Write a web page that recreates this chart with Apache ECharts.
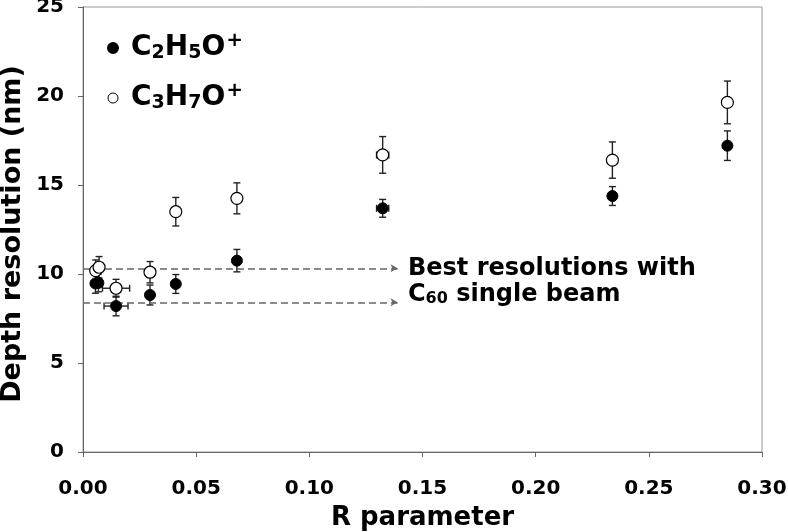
<!DOCTYPE html>
<html>
<head>
<meta charset="utf-8">
<script src="https://cdn.jsdelivr.net/npm/echarts@6/dist/echarts.min.js"></script>
<style>html,body{margin:0;padding:0;background:#fff;}#c{width:788px;height:532px;}</style>
</head>
<body>
<div id="c"></div>
<script>
// ---- data ----
var seriesNames = ['C2H5O+', 'C3H7O+'];
var rC2 = [0.0055, 0.0068, 0.0146, 0.0296, 0.041, 0.068, 0.1324, 0.2339, 0.2847];
var c2Values = [9.47, 9.5, 8.2, 8.82, 9.44, 10.75, 13.69, 14.38, 17.21];
var c2YErr = [0.55, 0.5, 0.55, 0.56, 0.53, 0.63, 0.5, 0.53, 0.83];
var c2XErr = [0, 0, 0.0053, 0, 0, 0, 0.0027, 0, 0];
var rC3 = [0.0056, 0.0071, 0.0146, 0.0296, 0.041, 0.068, 0.1324, 0.2339, 0.2847];
var c3Values = [10.19, 10.38, 9.2, 10.1, 13.5, 14.25, 16.69, 16.4, 19.64];
var c3YErr = [0.6, 0.6, 0.5, 0.6, 0.8, 0.87, 1.03, 1.02, 1.2];
var c3XErr = [0, 0, 0.006, 0, 0, 0, 0.0027, 0, 0];
var refLevels = [10.32, 8.41];
var refEnd = 0.139;
var xTicks = [0, 0.05, 0.10, 0.15, 0.20, 0.25, 0.30];
var yTicks = [0, 5, 10, 15, 20, 25];
var yTitle = 'Depth resolution (nm)';
var annotation1 = 'Best resolutions with';

// ---- build ----
function zip(xs, ys) { return xs.map(function (x, i) { return [x, ys[i]]; }); }
function errData(xs, ys, ye, xe) { return xs.map(function (x, i) { return [x, ys[i], ye[i], xe[i]]; }); }

function renderErr(params, api) {
  var x = api.value(0), y = api.value(1), ye = api.value(2), xe = api.value(3);
  var c = api.coord([x, y]);
  var top = api.coord([x, y + ye]);
  var bot = api.coord([x, y - ye]);
  var cap = 3.5;
  var st = { stroke: '#222', lineWidth: 1.4 };
  var ch = [
    { type: 'line', shape: { x1: c[0], y1: top[1], x2: c[0], y2: bot[1] }, style: st },
    { type: 'line', shape: { x1: c[0] - cap, y1: top[1], x2: c[0] + cap, y2: top[1] }, style: st },
    { type: 'line', shape: { x1: c[0] - cap, y1: bot[1], x2: c[0] + cap, y2: bot[1] }, style: st }
  ];
  if (xe > 0) {
    var l = api.coord([x - xe, y]), r = api.coord([x + xe, y]);
    ch.push({ type: 'line', shape: { x1: l[0], y1: c[1], x2: r[0], y2: c[1] }, style: st });
    ch.push({ type: 'line', shape: { x1: l[0], y1: c[1] - cap, x2: l[0], y2: c[1] + cap }, style: st });
    ch.push({ type: 'line', shape: { x1: r[0], y1: c[1] - cap, x2: r[0], y2: c[1] + cap }, style: st });
  }
  return { type: 'group', children: ch };
}

var FONT = '"DejaVu Sans", Verdana, sans-serif';
var chart = echarts.init(document.getElementById('c'), null, { renderer: 'canvas' });

function formulaRich(name) {
  var out = '';
  for (var i = 0; i < name.length; i++) {
    var ch = name[i];
    if (/[0-9]/.test(ch)) out += '{s|' + ch + '}';
    else if (ch === '+') out += '{p|+}';
    else out += '{b|' + ch + '}';
  }
  return out;
}

var option = {
  animation: false,
  backgroundColor: '#fff',
  grid: { left: 83, right: 26, top: 7, bottom: 80, show: true, borderColor: '#999', borderWidth: 1,
    containLabel: false, outerBoundsMode: 'none' },
  legend: {
    orient: 'vertical',
    left: 102, top: 26,
    itemWidth: 10, itemHeight: 10, itemGap: 16,
    icon: 'circle',
    data: [
      { name: seriesNames[0], itemStyle: { color: '#000', borderColor: '#000' } },
      { name: seriesNames[1], itemStyle: { color: '#fff', borderColor: '#000', borderWidth: 1 } }
    ],
    formatter: formulaRich,
    textStyle: {
      padding: [0, 0, 0, 8],
      rich: {
        b: { fontFamily: FONT, fontWeight: 'bold', fontSize: 28, color: '#000', lineHeight: 34, verticalAlign: 'middle' },
        s: { fontFamily: FONT, fontWeight: 'bold', fontSize: 19, color: '#000', lineHeight: 34, verticalAlign: 'bottom', padding: [0, 0, 2, 0] },
        p: { fontFamily: FONT, fontWeight: 'bold', fontSize: 20, color: '#000', lineHeight: 34, verticalAlign: 'top', padding: [0, 0, 0, 1] }
      }
    }
  },
  xAxis: {
    type: 'value', min: 0, max: 0.3, interval: 0.05,
    name: 'R parameter', nameLocation: 'middle', nameGap: 53,
    nameTextStyle: { fontFamily: FONT, fontWeight: 'bold', fontSize: 26, color: '#000' },
    axisLine: { show: true, lineStyle: { color: '#666', width: 1 } },
    axisTick: { show: true, length: 5, lineStyle: { color: '#666' } },
    splitLine: { show: false },
    axisLabel: { margin: 27, fontFamily: FONT, fontWeight: 'bold', fontSize: 20, color: '#000',
      formatter: function (v) { return v.toFixed(2); } }
  },
  yAxis: {
    type: 'value', min: 0, max: 25, interval: 5,
    axisLine: { show: true, lineStyle: { color: '#666', width: 1 } },
    axisTick: { show: true, length: 5, lineStyle: { color: '#666' } },
    splitLine: { show: false },
    axisLabel: { margin: 19, fontFamily: FONT, fontWeight: 'bold', fontSize: 20, color: '#000' }
  },
  series: [
    {
      type: 'custom', name: 'err1', renderItem: renderErr, z: 2,
      encode: { x: 0, y: 1 }, data: errData(rC2, c2Values, c2YErr, c2XErr), silent: true
    },
    {
      type: 'custom', name: 'err2', renderItem: renderErr, z: 2,
      encode: { x: 0, y: 1 }, data: errData(rC3, c3Values, c3YErr, c3XErr), silent: true
    },
    {
      type: 'scatter', name: seriesNames[0], z: 5, symbol: 'circle', symbolSize: 11,
      itemStyle: { color: '#000', borderColor: '#000', borderWidth: 1, opacity: 1 },
      data: zip(rC2, c2Values),
      markLine: {
        silent: true, symbol: ['none', 'arrow'], symbolSize: [6, 7],
        label: { show: false },
        lineStyle: { color: '#666', type: [7, 4], width: 1.6 },
        data: refLevels.map(function (v) { return [{ coord: [0, v] }, { coord: [refEnd, v] }]; })
      }
    },
    {
      type: 'scatter', name: seriesNames[1], z: 6, symbol: 'circle', symbolSize: 12,
      itemStyle: { color: '#fff', borderColor: '#000', borderWidth: 1.2, opacity: 1 },
      data: zip(rC3, c3Values)
    }
  ],
  graphic: [
    {
      type: 'text', x: 13, y: 234, rotation: Math.PI / 2,
      style: { text: yTitle, x: 0, y: 0, align: 'center', verticalAlign: 'middle',
        fontFamily: FONT, fontWeight: 'bold', fontSize: 27, fill: '#000' }
    },
    {
      type: 'text', left: 408, top: 257,
      style: { text: annotation1, fontFamily: FONT, fontWeight: 'bold', fontSize: 24, fill: '#000' }
    },
    {
      type: 'text', left: 408, top: 283,
      style: {
        text: '{b|C}{s|60}{b| single beam}',
        rich: {
          b: { fontFamily: FONT, fontWeight: 'bold', fontSize: 24, fill: '#000', lineHeight: 30, verticalAlign: 'middle' },
          s: { fontFamily: FONT, fontWeight: 'bold', fontSize: 16, fill: '#000', lineHeight: 30, verticalAlign: 'bottom', padding: [0, 0, 3, 0] }
        }
      }
    }
  ]
};
chart.setOption(option);
</script>
</body>
</html>
